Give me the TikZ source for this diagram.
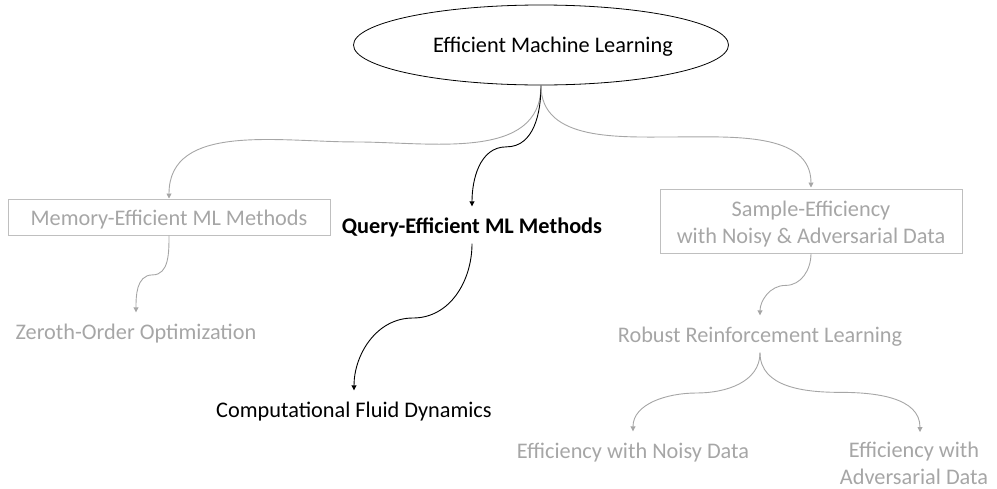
\documentclass[tikz,border=0pt]{standalone}
\usepackage{fontspec}
\setmainfont{Carlito}
\usetikzlibrary{shapes.geometric,arrows.meta,calc}
\definecolor{softgray}{RGB}{166,166,166}
\definecolor{boxgray}{RGB}{191,191,191}
\begin{document}
\begin{tikzpicture}[x=1pt,y=-1pt,
  font=\fontsize{22.3}{27}\selectfont,
  lbl/.style={inner xsep=2pt,inner ysep=8pt,text height=17pt,text depth=2pt,align=center},
  dim/.style={text=softgray},
  gbox/.style={draw=boxgray,line width=1pt,inner sep=0pt},
  conn/.style={line width=0.9pt,-{Triangle[length=5pt,width=5pt]}},
  gconn/.style={conn,draw=softgray},
  bconn/.style={conn,draw=black}]
\useasboundingbox (0,0) rectangle (997,488);

% root
\node[ellipse,draw=black,line width=0.8pt,minimum width=375,minimum height=80,inner sep=0pt] (root) at (541,45) {};
\node[lbl] (roottxt) at (553,45) {Efficient Machine Learning};

% second level (box texts sit on a baseline placed below the box centre)
\node[gbox,dim,minimum width=322,minimum height=36] (mem) at (169,217)
  {\raisebox{-8pt}[0pt][0pt]{Memory-Efficient ML Methods}};
\node[lbl,font=\fontsize{22.3}{27}\selectfont\bfseries] (query) at (472,226) {Query-Efficient ML Methods};
\node[gbox,dim,minimum width=302,minimum height=64] (sample) at (811,221)
  {\raisebox{5pt}[0pt][0pt]{\begin{tabular}[t]{@{}c@{}}Sample-Efficiency\\with Noisy \& Adversarial Data\end{tabular}}};

% third level
\node[lbl,dim] (zeroth) at (136,332) {Zeroth-Order Optimization};
\node[lbl] (cfd) at (354,410) {Computational Fluid Dynamics};
\node[lbl,dim] (robust) at (760,335) {Robust Reinforcement Learning};

% fourth level
\node[lbl,dim] (noisy) at (633,451) {Efficiency with Noisy Data};
\node[dim,align=center,inner sep=0pt] (adv) at (914,463) {Efficiency with\\Adversarial Data};
\coordinate (advtop) at (920,432);

% connectors
\draw[gconn] (root.south) to[out=-90,in=0] ($(root.south)!0.5!(mem.north)$) to[out=180,in=90] (mem.north);
\draw[bconn,shorten >=2pt] (root.south) to[out=-90,in=0] ($(root.south)!0.5!(query.north)$) to[out=180,in=90] (query.north);
\draw[gconn,shorten >=1pt] (root.south) to[out=-90,in=180] ($(root.south)!0.5!(sample.north)$) to[out=0,in=90] (sample.north);

\draw[gconn,shorten >=2pt] (mem.south) to[out=-90,in=0] ($(mem.south)!0.5!(zeroth.north)$) to[out=180,in=90] (zeroth.north);
\draw[bconn,shorten >=2pt] (query.south) to[out=-90,in=0] ($(query.south)!0.5!(cfd.north)$) to[out=180,in=90] (cfd.north);
\draw[gconn,shorten >=2pt] (sample.south) to[out=-90,in=0] ($(sample.south)!0.5!(robust.north)$) to[out=180,in=90] (robust.north);

\draw[gconn,shorten >=2pt] (robust.south) to[out=-90,in=0] ($(robust.south)!0.5!(noisy.north)$) to[out=180,in=90] (noisy.north);
\draw[gconn] (robust.south) to[out=-90,in=180] ($(robust.south)!0.5!(advtop)$) to[out=0,in=90] (advtop);
\end{tikzpicture}
\end{document}
